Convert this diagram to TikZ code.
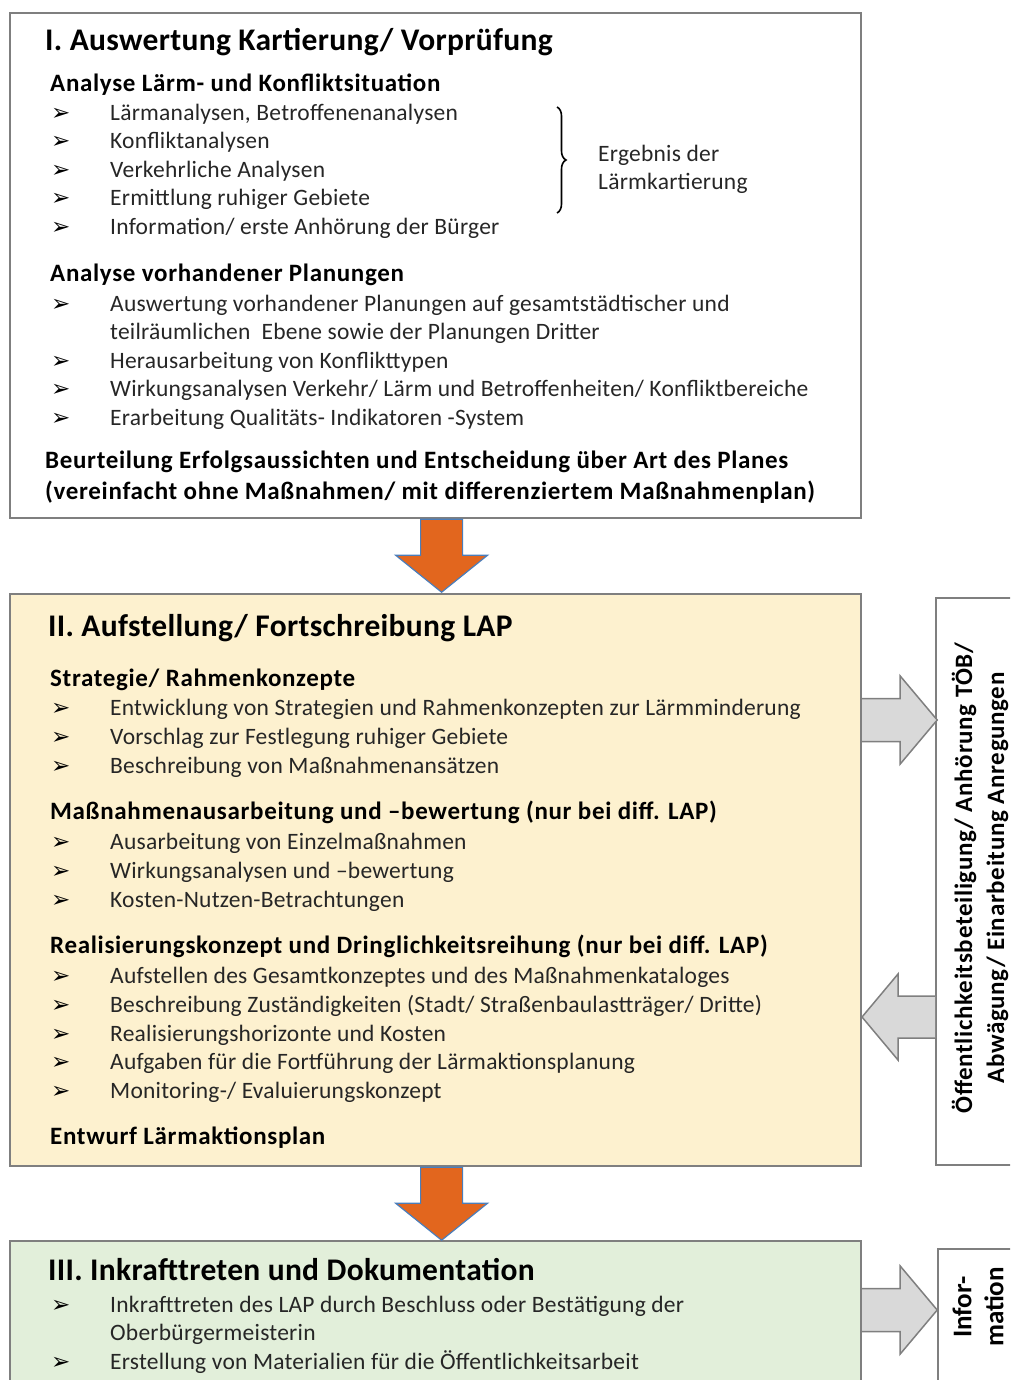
\documentclass[tikz,border=0pt]{standalone}
\usepackage{fontspec}
\setmainfont{Carlito}
\newfontfamily\arrowfont{DejaVu Sans}
\usetikzlibrary{calc,decorations.pathreplacing}
\definecolor{boxgrey}{HTML}{7F7F7F}
\definecolor{lapfill}{HTML}{FDF1CF}
\definecolor{docfill}{HTML}{E2EFDA}
\definecolor{arroworange}{HTML}{E2661E}
\definecolor{arrowblue}{HTML}{4A7EBB}
\definecolor{arrowgrey}{HTML}{D9D9D9}
\tikzset{
  phase/.style={draw=boxgrey, line width=2.2pt, anchor=north west, minimum width=851pt, inner sep=0pt},
  sidebox/.style={draw=boxgrey, line width=2pt, anchor=north west, minimum width=120pt, inner sep=0pt},
  title/.style={anchor=base west, inner sep=0pt, font=\fontsize{31.5}{36}\selectfont\bfseries\addfontfeature{LetterSpace=1}},
  head/.style={anchor=base west, inner sep=0pt, font=\fontsize{25}{30}\selectfont\bfseries\addfontfeature{LetterSpace=2.7}},
  itemtext/.style={anchor=base west, inner sep=0pt, font=\fontsize{23.5}{28}\selectfont\addfontfeature{LetterSpace=1}, text=black!85},
  bulletmark/.style={anchor=base west, inner sep=0pt, font=\fontsize{23}{26}\selectfont\arrowfont},
  sidetext/.style={rotate=90, align=center, inner sep=0pt, font=\fontsize{25}{32}\selectfont\bfseries\addfontfeature{LetterSpace=2.7}},
  orangearrow/.style={fill=arroworange, draw=arrowblue, line width=1.2pt, line join=miter},
  greyarrow/.style={fill=arrowgrey, draw=boxgrey, line width=1.5pt, line join=miter},
  pics/downarr/.style={code={
    \draw[orangearrow] (-21,0) -- (-21,36) -- (-46,36) -- (0,73) -- (46,36) -- (21,36) -- (21,0) -- cycle;}},
  pics/rightarr/.style={code={
    \draw[greyarrow] (0,-21.5) -- (38,-21.5) -- (38,-44) -- (75,0) -- (38,44) -- (38,21.5) -- (0,21.5);}},
  pics/leftarr/.style={code={
    \draw[greyarrow] (0,-21) -- (-37,-21) -- (-37,-43) -- (-73,0) -- (-37,43) -- (-37,21) -- (0,21);}}
}
\newcommand{\bulitem}[3]{%
  \node[bulletmark] (#1b) at (51,#2) {➢};
  \node[itemtext] (#1) at (110,#2) {#3};}

\begin{document}
\begin{tikzpicture}[x=1pt, y=-1pt]
  \useasboundingbox (0,0) rectangle (1010,1380);
  \clip (0,0) rectangle (1010,1380);

  % phase boxes
  \node[phase, minimum height=505pt] (ausw) at (9,12) {};
  \node[phase, minimum height=572pt, fill=lapfill] (lap) at (9,593) {};
  \node[phase, minimum height=200pt, fill=docfill] (doku) at (9,1240) {};

  % side boxes
  \node[sidebox, minimum height=567pt] (oeff) at (935,597) {};
  \node[sidebox, minimum height=200pt] (info) at (937,1248) {};

  % I.
  \node[title] (t1) at (45,51) {I. Auswertung Kartierung/ Vorprüfung};
  \node[head] (h11) at (50,92) {Analyse Lärm- und Konfliktsituation};
  \bulitem{a1}{121}{Lärmanalysen, Betroffenenanalysen}
  \bulitem{a2}{149}{Konfliktanalysen}
  \bulitem{a3}{178}{Verkehrliche Analysen}
  \bulitem{a4}{206}{Ermittlung ruhiger Gebiete}
  \bulitem{a5}{235}{Information/ erste Anhörung der Bürger}
  \coordinate (brtop) at (557,107);
  \coordinate (brbot) at (557,213);
  \draw[line width=1.6pt, decorate, decoration={brace, amplitude=9pt, aspect=0.5}] (brtop) -- (brbot);
  \node[itemtext] (erg1) at (598,162) {Ergebnis der};
  \node[itemtext] (erg2) at (598,190) {Lärmkartierung};

  \node[head] (h12) at (50,281) {Analyse vorhandener Planungen};
  \bulitem{b1}{311}{Auswertung vorhandener Planungen auf gesamtstädtischer und}
  \node[itemtext] (b1c) at (110,339) {teilräumlichen \ Ebene sowie der Planungen Dritter};
  \bulitem{b2}{368}{Herausarbeitung von Konflikttypen}
  \bulitem{b3}{396}{Wirkungsanalysen Verkehr/ Lärm und Betroffenheiten/ Konfliktbereiche}
  \bulitem{b4}{425}{Erarbeitung Qualitäts- Indikatoren -System}
  \node[head] (h13) at (45,468) {Beurteilung Erfolgsaussichten und Entscheidung über Art des Planes};
  \node[head] (h14) at (45,499) {(vereinfacht ohne Maßnahmen/ mit differenziertem Maßnahmenplan)};

  % II.
  \node[title] (t2) at (48,636) {II. Aufstellung/ Fortschreibung LAP};
  \node[head] (h21) at (50,686) {Strategie/ Rahmenkonzepte};
  \bulitem{c1}{715}{Entwicklung von Strategien und Rahmenkonzepten zur Lärmminderung}
  \bulitem{c2}{744}{Vorschlag zur Festlegung ruhiger Gebiete}
  \bulitem{c3}{773}{Beschreibung von Maßnahmenansätzen}
  \node[head] (h22) at (50,819) {Maßnahmenausarbeitung und –bewertung (nur bei diff. LAP)};
  \bulitem{d1}{849}{Ausarbeitung von Einzelmaßnahmen}
  \bulitem{d2}{878}{Wirkungsanalysen und –bewertung}
  \bulitem{d3}{907}{Kosten-Nutzen-Betrachtungen}
  \node[head] (h23) at (50,953) {Realisierungskonzept und Dringlichkeitsreihung (nur bei diff. LAP)};
  \bulitem{e1}{983}{Aufstellen des Gesamtkonzeptes und des Maßnahmenkataloges}
  \bulitem{e2}{1012}{Beschreibung Zuständigkeiten (Stadt/ Straßenbaulastträger/ Dritte)}
  \bulitem{e3}{1041}{Realisierungshorizonte und Kosten}
  \bulitem{e4}{1069}{Aufgaben für die Fortführung der Lärmaktionsplanung}
  \bulitem{e5}{1098}{Monitoring-/ Evaluierungskonzept}
  \node[head] (h24) at (50,1144) {Entwurf Lärmaktionsplan};

  % III.
  \node[title] (t3) at (48,1280) {III. Inkrafttreten und Dokumentation};
  \bulitem{f1}{1312}{Inkrafttreten des LAP durch Beschluss oder Bestätigung der}
  \node[itemtext] (f1c) at (110,1340) {Oberbürgermeisterin};
  \bulitem{f2}{1369}{Erstellung von Materialien für die Öffentlichkeitsarbeit};

  % side texts
  \node[sidetext] (oefftxt) at (980,878) {Öffentlichkeitsbeteiligung/ Anhörung TÖB/\\Abwägung/ Einarbeitung Anregungen};
  \node[sidetext, font=\fontsize{27}{32}\selectfont\bfseries] (infotxt) at (978,1307) {Infor-\\mation};

  % block arrows
  \pic at ($(ausw.south)+(6,0)$) {downarr};
  \pic at ($(lap.south)+(6,0)$) {downarr};
  \pic at (lap.east |- 0,720) {rightarr};
  \pic at (oeff.west |- 0,1017) {leftarr};
  \pic at (doku.east |- 0,1310) {rightarr};
\end{tikzpicture}
\end{document}
